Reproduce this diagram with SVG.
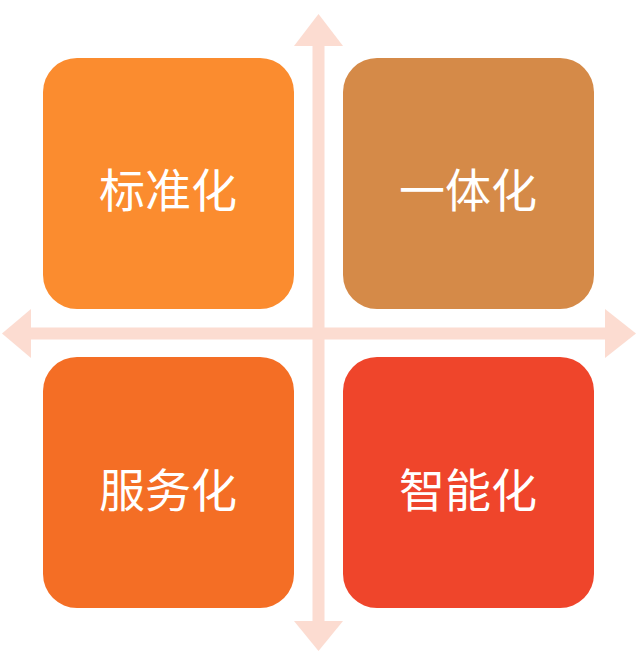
<svg xmlns="http://www.w3.org/2000/svg" width="640" height="655" viewBox="0 0 640 655">
<style>
.box{stroke:none}
.lbl{font-family:"Noto Sans CJK SC","Noto Sans",sans-serif;font-size:46px;fill:#ffffff;text-anchor:middle}
.ax{fill:#fcdcd1}
</style>
<rect width="640" height="655" fill="#ffffff"/>
<g id="connectors">
<rect class="ax" x="312.5" y="44" width="12" height="579"/>
<polygon class="ax" points="318.5,14 343,46 294,46"/>
<polygon class="ax" points="318.5,651 343,621 294,621"/>
<rect class="ax" x="28" y="327.5" width="579" height="12"/>
<polygon class="ax" points="2,333.5 31,309 31,358"/>
<polygon class="ax" points="636,333.5 605,309 605,358"/>
</g>
<g id="node-standard">
<rect class="box" x="43" y="58" width="251" height="251" rx="34" fill="#fb8c2f"/>
<text class="lbl" x="168" y="207">标准化</text>
</g>
<g id="node-integrated">
<rect class="box" x="343" y="58" width="251" height="251" rx="34" fill="#d58a48"/>
<text class="lbl" x="468" y="207">一体化</text>
</g>
<g id="node-service">
<rect class="box" x="43" y="357" width="251" height="251" rx="34" fill="#f46e25"/>
<text class="lbl" x="168" y="507">服务化</text>
</g>
<g id="node-smart">
<rect class="box" x="343" y="357" width="251" height="251" rx="34" fill="#ef452b"/>
<text class="lbl" x="468" y="507">智能化</text>
</g>
</svg>
